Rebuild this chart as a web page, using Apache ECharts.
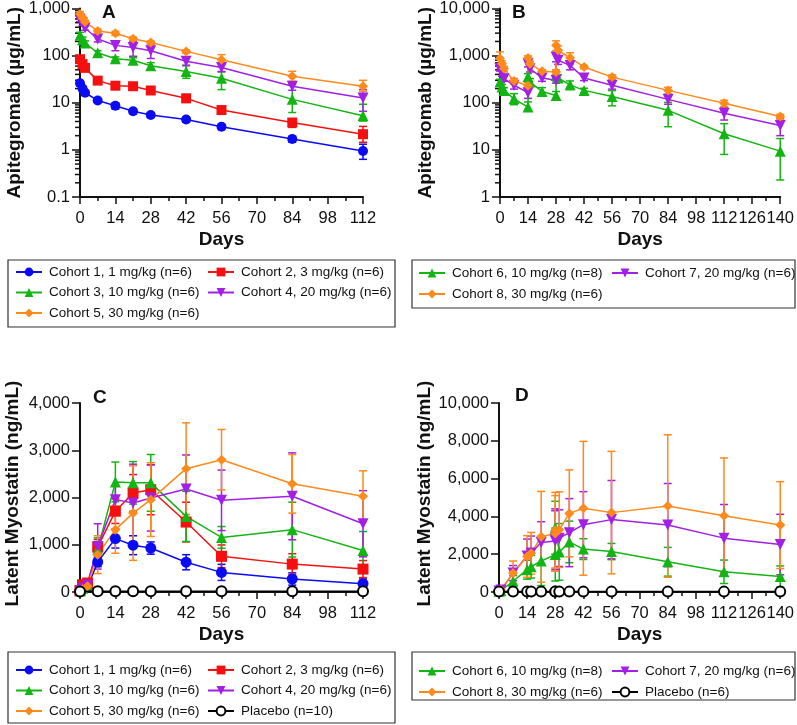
<!DOCTYPE html>
<html><head><meta charset="utf-8">
<script src="https://cdn.jsdelivr.net/npm/echarts@6/dist/echarts.min.js"></script>
<style>html,body{margin:0;padding:0;background:#fff}#c{width:797px;height:725px}</style>
</head><body><div id="c"></div>
<script>
// ---------------- DATA ----------------
// Panel A: Apitegromab (ug/mL), cohorts 1-5, single dose
const daysA = [0, 1, 2, 7, 14, 21, 28, 42, 56, 84, 112];
const c1A = [26, 20, 16.3, 11.2, 8.6, 6.6, 5.5, 4.4, 3.1, 1.7, 0.95];
const c2A = [84, 66, 55, 29.5, 23, 22.4, 18.2, 12.4, 7.0, 3.8, 2.15];
const c3A = [272, 217, 185, 115, 86, 80, 61, 46, 33, 11.8, 5.3];
const c4A = [590, 490, 385, 225, 165, 148, 127, 76, 56, 22.4, 12.6];
const c5A = [760, 625, 520, 335, 298, 228, 190, 123, 82, 36.6, 22.4];
const up1A = [3, 2, 1.5, 1, 1.2, 0.8, 0.6, 0.5, 0.3, 0.25, 0.37];
const dn1A = [3, 2, 1.5, 1, 1.2, 0.8, 0.6, 0.5, 0.3, 0.25, 0.32];
const up2A = [10, 8, 6, 4, 3, 2, 2, 2.6, 1, 0.8, 1.0];
const dn2A = [10, 8, 6, 4, 3, 2, 2, 2.2, 1, 0.8, 0.7];
const up3A = [40, 30, 20, 12, 8, 10, 10, 17, 12, 12.6, 4.0];
const dn3A = [40, 30, 20, 12, 8, 10, 10, 13, 14, 5.6, 1.2];
const up4A = [60, 50, 40, 40, 28, 52, 45, 15, 10, 4, 6.4];
const dn4A = [60, 50, 40, 30, 38, 51, 40, 15, 10, 4, 6.0];
const up5A = [100, 60, 40, 30, 30, 20, 15, 10, 23, 10, 7.5];
const dn5A = [100, 60, 40, 30, 30, 20, 15, 10, 15, 8, 5];

// Panel B: Apitegromab (ug/mL), cohorts 6-8, repeat dosing
const daysB = [0, 1, 2, 7, 14, 14, 15, 21, 28, 28, 29, 35, 42, 56, 84, 112, 140];
const c6B = [275, 215, 183, 121, 81, 355, 275, 174, 143, 380, 335, 240, 183, 136, 69, 22, 9.4];
const c7B = [530, 415, 325, 235, 164, 675, 530, 335, 300, 940, 800, 620, 335, 235, 118, 60, 33];
const c8B = [870, 675, 530, 290, 230, 890, 675, 465, 450, 1660, 1300, 900, 575, 350, 183, 98, 51];
const up6B = [40, 30, 25, 35, 23, 60, 50, 35, 30, 90, 60, 50, 20, 45, 33, 14, 8];
const dn6B = [40, 30, 25, 30, 13, 60, 50, 35, 30, 90, 60, 50, 20, 50, 38, 14, 7.1];
const up7B = [60, 50, 40, 40, 40, 100, 80, 50, 40, 200, 150, 120, 40, 40, 25, 21, 13];
const dn7B = [60, 50, 40, 40, 40, 100, 80, 50, 40, 200, 150, 120, 40, 40, 25, 17, 13];
const up8B = [330, 100, 60, 40, 40, 100, 80, 40, 50, 400, 300, 250, 50, 40, 30, 15, 6];
const dn8B = [200, 100, 60, 40, 40, 100, 80, 40, 50, 400, 300, 250, 50, 40, 30, 15, 6];

// Panel C: Latent myostatin (ng/mL), cohorts 1-5 + placebo
const daysC = [0, 1, 3, 7, 14, 21, 28, 42, 56, 84, 112];
const c1C = [15, 60, 105, 635, 1130, 990, 930, 630, 415, 275, 175];
const c2C = [30, 155, 190, 950, 1710, 2095, 2165, 1480, 755, 590, 485];
const c3C = [20, 80, 150, 895, 2330, 2310, 2310, 1600, 1155, 1320, 880];
const c4C = [20, 80, 150, 965, 1955, 1885, 1990, 2180, 1940, 2025, 1445];
const c5C = [20, 60, 120, 790, 1320, 1670, 1955, 2610, 2800, 2290, 2025];
const sd1C = [10, 30, 40, 100, 200, 200, 130, 160, 170, 130, 100];
const sd2C = [20, 50, 60, 160, 260, 390, 530, 420, 240, 220, 180];
const sd3C = [10, 40, 60, 250, 420, 450, 600, 530, 230, 580, 400];
const sd4C = [10, 40, 60, 480, 300, 820, 700, 720, 640, 920, 700];
const sd5C = [10, 30, 60, 400, 500, 1000, 780, 970, 640, 620, 540];
const daysPC = [0, 7, 14, 21, 28, 42, 56, 84, 112];
const plC = [10, 15, 15, 15, 15, 15, 15, 15, 15];

// Panel D: Latent myostatin (ng/mL), cohorts 6-8 + placebo
const daysD = [0, 1, 7, 14, 16, 21, 28, 28, 30, 35, 42, 56, 84, 112, 140];
const c6D = [35, 70, 570, 1180, 1340, 1640, 1980, 3400, 2120, 2650, 2270, 2140, 1600, 1070, 820];
const c7D = [50, 100, 1000, 1900, 2060, 2620, 2700, 2800, 2850, 3140, 3560, 3830, 3540, 2850, 2510];
const c8D = [30, 120, 1000, 1880, 2050, 2920, 3100, 3270, 3300, 4160, 4430, 4200, 4550, 4040, 3540];
const sd6D = [30, 60, 300, 500, 600, 1300, 1400, 1400, 1500, 1100, 550, 430, 760, 620, 560];
const sd7D = [30, 60, 400, 900, 900, 1100, 1600, 1600, 1500, 1800, 1750, 2070, 2200, 1780, 1600];
const sd8D = [30, 60, 640, 1100, 1100, 2400, 2000, 2000, 2000, 2300, 3540, 3240, 3770, 3050, 2300];
const daysPD = [0, 7, 14, 16, 21, 28, 28, 30, 35, 42, 56, 84, 112, 140];
const plD = [20, 20, 20, 20, 20, 20, 20, 20, 20, 20, 20, 20, 20, 20];

const names = {
  c1: 'Cohort 1, 1 mg/kg (n=6)', c2: 'Cohort 2, 3 mg/kg (n=6)', c3: 'Cohort 3, 10 mg/kg (n=6)',
  c4: 'Cohort 4, 20 mg/kg (n=6)', c5: 'Cohort 5, 30 mg/kg (n=6)', c6: 'Cohort 6, 10 mg/kg (n=8)',
  c7: 'Cohort 7, 20 mg/kg (n=6)', c8: 'Cohort 8, 30 mg/kg (n=6)', plC: 'Placebo (n=10)', plD: 'Placebo (n=6)'
};
const xMaxAC = 112, xMaxBD = 140;

// ---------------- STYLE ----------------
const FONT = '"Liberation Sans", Arial, Helvetica, sans-serif';
const INK = '#111';
const COL = { blue: '#0a0af5', red: '#f51010', green: '#13b513', purple: '#a21fe6', orange: '#ff8a1c' };
const SYM = {
  c1: ['circle', COL.blue, 0], c2: ['rect', COL.red, 0], c3: ['triangle', COL.green, 0],
  c4: ['triangle', COL.purple, 180], c5: ['diamond', COL.orange, 0],
  c6: ['triangle', COL.green, 0], c7: ['triangle', COL.purple, 180], c8: ['diamond', COL.orange, 0]
};

function fmt(v) {
  if (v < 1) return String(Math.round(v * 10) / 10);
  return Math.round(v).toLocaleString('en-US');
}
const nameStyle = { fontFamily: FONT, fontSize: 19, fontWeight: 'bold', color: INK };
const labelStyle = { fontFamily: FONT, fontSize: 16.5, color: INK };

function xAxis(gi, max) {
  return {
    type: 'value', gridIndex: gi, min: 0, max: max, interval: 14,
    name: 'Days', nameLocation: 'middle', nameGap: 33, nameTextStyle: nameStyle,
    axisLine: { onZero: false, lineStyle: { color: INK, width: 2 } },
    axisTick: { length: 7, lineStyle: { color: INK, width: 1.5 } },
    minorTick: { show: true, splitNumber: 2, length: 4, lineStyle: { color: INK, width: 1.5 } },
    axisLabel: Object.assign({ margin: 13 }, labelStyle),
    splitLine: { show: false }, minorSplitLine: { show: false }
  };
}
function yLog(gi, min, max, name, gap) {
  return {
    type: 'log', logBase: 10, gridIndex: gi, min: min, max: max,
    name: name, nameLocation: 'middle', nameGap: gap, nameTextStyle: nameStyle,
    axisLine: { show: true, lineStyle: { color: INK, width: 2 } },
    axisTick: { show: true, length: 8, lineStyle: { color: INK, width: 1.5 } },
    axisLabel: Object.assign({ margin: 10, formatter: fmt }, labelStyle),
    splitLine: { show: false }
  };
}
function yLin(gi, max, interval, name, gap) {
  return {
    type: 'value', gridIndex: gi, min: 0, max: max, interval: interval,
    name: name, nameLocation: 'middle', nameGap: gap,
    nameTextStyle: Object.assign({ padding: [0, 0, 0, 8] }, nameStyle),
    axisLine: { show: true, lineStyle: { color: INK, width: 2 } },
    axisTick: { show: true, length: 8, lineStyle: { color: INK, width: 1.5 } },
    axisLabel: Object.assign({ margin: 10, formatter: fmt }, labelStyle),
    splitLine: { show: false }
  };
}
function logMinor(gi, min, max) {
  const vals = [];
  for (let e = Math.round(Math.log10(min)); e < Math.round(Math.log10(max)); e++) {
    for (let k = 2; k <= 9; k++) vals.push([0, k * Math.pow(10, e)]);
  }
  return {
    type: 'custom', xAxisIndex: gi, yAxisIndex: gi, silent: true, clip: false, z: 1,
    data: vals, encode: { x: 0, y: 1 },
    renderItem: function (p, api) {
      const pt = api.coord([api.value(0), api.value(1)]);
      return { type: 'line', shape: { x1: pt[0] - 5, y1: pt[1], x2: pt[0], y2: pt[1] }, style: { stroke: INK, lineWidth: 1.5 } };
    }
  };
}
function errBars(gi, days, mean, up, dn, color, floor) {
  const data = days.map((d, i) => [d, Math.max(mean[i] - dn[i], floor), mean[i] + up[i]]);
  return {
    type: 'custom', xAxisIndex: gi, yAxisIndex: gi, silent: true, clip: false, z: 2,
    data: data, encode: { x: 0, y: [1, 2] },
    renderItem: function (p, api) {
      const x = api.value(0);
      const hi = api.coord([x, api.value(2)]);
      const lo = api.coord([x, api.value(1)]);
      const w = 4;
      const st = { stroke: color, lineWidth: 1.5 };
      return {
        type: 'group', children: [
          { type: 'line', shape: { x1: hi[0], y1: hi[1], x2: lo[0], y2: lo[1] }, style: st },
          { type: 'line', shape: { x1: hi[0] - w, y1: hi[1], x2: hi[0] + w, y2: hi[1] }, style: st },
          { type: 'line', shape: { x1: lo[0] - w, y1: lo[1], x2: lo[0] + w, y2: lo[1] }, style: st }
        ]
      };
    }
  };
}
function lineSeries(key, gi, days, vals, size) {
  const s = SYM[key];
  return {
    type: 'line', name: names[key], xAxisIndex: gi, yAxisIndex: gi,
    data: days.map((d, i) => [d, vals[i]]),
    symbol: s[0], symbolSize: size, symbolRotate: s[2], showAllSymbol: true,
    lineStyle: { color: s[1], width: 1.5 }, itemStyle: { color: s[1] }, z: 3
  };
}
function placebo(key, gi, days, vals) {
  return {
    type: 'line', name: names[key], xAxisIndex: gi, yAxisIndex: gi,
    data: days.map((d, i) => [d, vals[i]]),
    symbol: 'emptyCircle', symbolSize: 10, showAllSymbol: true,
    lineStyle: { color: '#000', width: 1.5 }, itemStyle: { color: '#000', borderWidth: 1.5 }, z: 4
  };
}

const series = [];
series.push(lineSeries('c1', 0, daysA, c1A, 10), lineSeries('c2', 0, daysA, c2A, 10),
  lineSeries('c3', 0, daysA, c3A, 11), lineSeries('c4', 0, daysA, c4A, 11), lineSeries('c5', 0, daysA, c5A, 10));
series.push(lineSeries('c6', 1, daysB, c6B, 11), lineSeries('c7', 1, daysB, c7B, 11), lineSeries('c8', 1, daysB, c8B, 10));
series.push(lineSeries('c1', 2, daysC, c1C, 11), lineSeries('c2', 2, daysC, c2C, 11),
  lineSeries('c3', 2, daysC, c3C, 11), lineSeries('c4', 2, daysC, c4C, 11), lineSeries('c5', 2, daysC, c5C, 10),
  placebo('plC', 2, daysPC, plC));
series.push(lineSeries('c6', 3, daysD, c6D, 11), lineSeries('c7', 3, daysD, c7D, 11), lineSeries('c8', 3, daysD, c8D, 10),
  placebo('plD', 3, daysPD, plD));
series.push(errBars(0, daysA, c1A, up1A, dn1A, COL.blue, 0.1), errBars(0, daysA, c2A, up2A, dn2A, COL.red, 0.1),
  errBars(0, daysA, c3A, up3A, dn3A, COL.green, 0.1), errBars(0, daysA, c4A, up4A, dn4A, COL.purple, 0.1),
  errBars(0, daysA, c5A, up5A, dn5A, COL.orange, 0.1));
series.push(errBars(1, daysB, c6B, up6B, dn6B, COL.green, 1), errBars(1, daysB, c7B, up7B, dn7B, COL.purple, 1),
  errBars(1, daysB, c8B, up8B, dn8B, COL.orange, 1));
series.push(errBars(2, daysC, c1C, sd1C, sd1C, COL.blue, 0), errBars(2, daysC, c2C, sd2C, sd2C, COL.red, 0),
  errBars(2, daysC, c3C, sd3C, sd3C, COL.green, 0), errBars(2, daysC, c4C, sd4C, sd4C, COL.purple, 0),
  errBars(2, daysC, c5C, sd5C, sd5C, COL.orange, 0));
series.push(errBars(3, daysD, c6D, sd6D, sd6D, COL.green, 0), errBars(3, daysD, c7D, sd7D, sd7D, COL.purple, 0),
  errBars(3, daysD, c8D, sd8D, sd8D, COL.orange, 0));
series.push(logMinor(0, 0.1, 1000), logMinor(1, 1, 10000));

// one legend component per entry, placed at its row / column
function leg(left, cy, key) {
  return {
    show: true, orient: 'horizontal', left: left, top: cy - 7, padding: 0,
    itemWidth: 26, itemHeight: 11, selectedMode: false,
    data: [names[key]],
    textStyle: { fontFamily: FONT, fontSize: 13.5, color: INK, padding: [0, 0, 0, 2] }
  };
}
function box(x, y, w, h) {
  return { type: 'rect', shape: { x: x, y: y, width: w, height: h }, style: { fill: 'none', stroke: '#333', lineWidth: 1.2 }, silent: true };
}
function letter(t, x, y) {
  return { type: 'text', x: x, y: y, style: { text: t, fontFamily: FONT, fontSize: 19, fontWeight: 'bold', fill: INK, verticalAlign: 'middle', align: 'left' } };
}

const option = {
  animation: false,
  backgroundColor: '#fff',
  grid: [
    { left: 80, top: 7, width: 283, height: 190 },
    { left: 500, top: 7, width: 283, height: 190 },
    { left: 80, top: 403, width: 283, height: 189 },
    { left: 499, top: 403, width: 284, height: 189 }
  ],
  xAxis: [xAxis(0, xMaxAC), xAxis(1, xMaxBD), xAxis(2, xMaxAC), xAxis(3, xMaxBD)],
  yAxis: [
    yLog(0, 0.1, 1000, 'Apitegromab (\u00b5g/mL)', 56),
    yLog(1, 1, 10000, 'Apitegromab (\u00b5g/mL)', 63),
    yLin(2, 4000, 1000, 'Latent Myostatin (ng/mL)', 58),
    yLin(3, 10000, 2000, 'Latent Myostatin (ng/mL)', 65)
  ],
  legend: [
    leg(15, 272, 'c1'), leg(15, 292.5, 'c3'), leg(15, 313, 'c5'),
    leg(207, 272, 'c2'), leg(207, 292.5, 'c4'),
    leg(418, 273, 'c6'), leg(418, 294, 'c8'), leg(611, 273, 'c7'),
    leg(15, 670, 'c1'), leg(15, 690.5, 'c3'), leg(15, 711, 'c5'),
    leg(207, 670, 'c2'), leg(207, 690.5, 'c4'), leg(207, 711, 'plC'),
    leg(418, 671, 'c6'), leg(418, 692, 'c8'), leg(611, 671, 'c7'), leg(611, 692, 'plD')
  ],
  graphic: [
    box(8, 260, 387, 67), box(412, 260, 383, 48), box(8, 652, 387, 71), box(412, 652, 383, 48),
    letter('A', 102, 13), letter('B', 512, 13), letter('C', 93, 397.5), letter('D', 515, 395.5)
  ],
  series: series
};
const chart = echarts.init(document.getElementById('c'), null, { renderer: 'canvas' });
chart.setOption(option);
</script></body></html>
